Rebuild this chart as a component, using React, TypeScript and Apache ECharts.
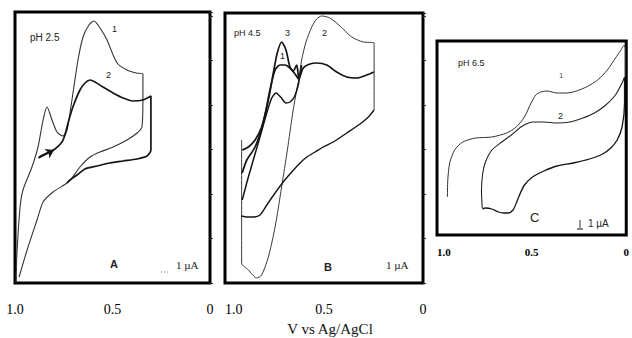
import React, { useEffect, useRef } from "react";
import * as echarts from "echarts";

// Potential axis (V vs Ag/AgCl), current in arbitrary units
const xTickValues = [1.0, 0.5, 0];
const xAxisTitle = "V vs Ag/AgCl";

// Panel A, pH 2.5: [V, current]
const aCurve1: number[][] = [
  [0.995, 0], [0.99, 30], [0.974, 76], [0.959, 93], [0.913, 116], [0.882, 136], [0.856, 163],
  [0.836, 176], [0.81, 163], [0.785, 151], [0.754, 147], [0.733, 153], [0.708, 183], [0.677, 223],
  [0.651, 246], [0.621, 258], [0.595, 262], [0.564, 255], [0.528, 243], [0.497, 228], [0.472, 219],
  [0.426, 213], [0.379, 210], [0.344, 209], [0.344, 183], [0.349, 156], [0.374, 150], [0.426, 143],
  [0.497, 136], [0.564, 131], [0.615, 126], [0.667, 116], [0.708, 105], [0.733, 100], [0.805, 91],
  [0.856, 81], [0.887, 63], [0.938, 33], [0.979, 6],
];
const aCurve2: number[][] = [
  [0.877, 126], [0.836, 130], [0.795, 134], [0.759, 141], [0.744, 148], [0.728, 160], [0.703, 176],
  [0.667, 193], [0.641, 200], [0.615, 203], [0.59, 201], [0.549, 196], [0.497, 190], [0.446, 185],
  [0.395, 182], [0.344, 183], [0.303, 187], [0.303, 133], [0.323, 127], [0.374, 124], [0.446, 122],
  [0.513, 120], [0.579, 117], [0.641, 114], [0.682, 108], [0.718, 103], [0.733, 100],
];
const aArrow: number[][] = [[0.88, 125], [0.8, 133]];

// Panel B, pH 4.5
const bCurve2: number[][] = [
  [0.916, 143], [0.916, 20], [0.882, 13], [0.84, 5], [0.815, 8], [0.781, 26], [0.747, 56],
  [0.714, 96], [0.685, 133], [0.658, 170], [0.638, 193], [0.628, 203], [0.613, 223], [0.591, 241],
  [0.562, 256], [0.537, 264], [0.512, 267], [0.47, 265], [0.419, 257], [0.36, 246], [0.302, 241],
  [0.247, 240], [0.247, 173],
];
const bReturn: number[][] = [
  [0.247, 173], [0.276, 166], [0.318, 159], [0.385, 150], [0.453, 141], [0.504, 136], [0.545, 131],
  [0.587, 126], [0.621, 120], [0.663, 111], [0.706, 101], [0.747, 90], [0.789, 78], [0.823, 68],
  [0.857, 66], [0.89, 66], [0.916, 67],
];
const bCurve3: number[][] = [
  [0.913, 133], [0.882, 136], [0.848, 143], [0.815, 156], [0.781, 183], [0.756, 210], [0.736, 230],
  [0.714, 241], [0.692, 233], [0.672, 216], [0.655, 212], [0.638, 218], [0.633, 213], [0.628, 204],
];
const bCurve1: number[][] = [
  [0.913, 110], [0.89, 123], [0.848, 136], [0.807, 160], [0.773, 193], [0.747, 213], [0.722, 218],
  [0.697, 218], [0.672, 215], [0.646, 209], [0.628, 204], [0.605, 215], [0.571, 219], [0.537, 220],
  [0.486, 218], [0.436, 211], [0.385, 206], [0.335, 205], [0.284, 208], [0.247, 211],
];
const bCurveEarly: number[][] = [
  [0.913, 83], [0.882, 106], [0.832, 140], [0.789, 170], [0.764, 185], [0.742, 190], [0.719, 186],
  [0.692, 180], [0.672, 181], [0.65, 186], [0.63, 198], [0.613, 218],
];

// Panel C, pH 6.5
const cCurve1: number[][] = [
  [0.945, 38], [0.943, 55], [0.933, 72], [0.907, 85], [0.864, 93], [0.796, 97], [0.71, 98],
  [0.632, 102], [0.581, 108], [0.538, 118], [0.503, 132], [0.478, 140], [0.452, 143], [0.418, 144],
  [0.366, 142], [0.314, 142], [0.263, 144], [0.211, 148], [0.151, 155], [0.1, 165], [0.057, 177],
  [0.031, 184], [0.01, 190], [0.005, 185], [0.005, 158],
];
const cCurve2: number[][] = [
  [0.761, 27], [0.765, 45], [0.758, 62], [0.744, 73], [0.71, 85], [0.658, 93], [0.607, 100],
  [0.564, 107], [0.529, 111], [0.495, 113], [0.435, 113], [0.366, 112], [0.297, 113], [0.229, 117],
  [0.168, 122], [0.108, 130], [0.057, 140], [0.022, 152], [0.009, 158],
];
const cReturn: number[][] = [
  [0.009, 157], [0.009, 132], [0.022, 108], [0.048, 95], [0.082, 87], [0.125, 81], [0.194, 76],
  [0.28, 72], [0.366, 69], [0.435, 64], [0.495, 58], [0.538, 50], [0.564, 40], [0.581, 32],
  [0.598, 25], [0.624, 22], [0.649, 22], [0.675, 23], [0.71, 26], [0.744, 27], [0.761, 26],
];

const panelTitles = ["pH 2.5", "pH 4.5", "pH 6.5"];
const panelLetters = ["A", "B", "C"];
const scaleText = "1 µA";

const INK = "#151515";

function fmt(v: number) {
  if (v === 0) return "0";
  return v.toFixed(1);
}

export default function App() {
  const ref = useRef<HTMLDivElement>(null);

  useEffect(() => {
    if (!ref.current) return;
    const chart = echarts.init(ref.current, undefined, { renderer: "svg" });

    const grids = [
      { left: 15, top: 12, width: 195, height: 271 },
      { left: 225, top: 13, width: 198, height: 270 },
      { left: 437, top: 41, width: 194, height: 194 },
    ].map((g) => ({ ...g, show: true, borderColor: "#000", borderWidth: 3, backgroundColor: "transparent" }));

    const mkX = (i: number, big: boolean) => ({
      type: "value",
      gridIndex: i,
      min: 0,
      max: 1,
      interval: 0.5,
      inverse: true,
      axisLine: { show: false },
      axisTick: { show: false },
      splitLine: { show: false },
      axisLabel: {
        show: true,
        margin: big ? 19 : 11,
        fontFamily: "Liberation Serif",
        fontSize: big ? 14 : 11,
        fontWeight: big ? "normal" : "bold",
        color: "#000",
        formatter: (v: number) => (xTickValues.indexOf(v) >= 0 ? fmt(v) : ""),
        alignMaxLabel: i === 0 ? "center" : "left",
      },
    });
    const mkY = (i: number, max: number, tick: boolean) => ({
      type: "value",
      gridIndex: i,
      min: 0,
      max,
      interval: 44.5,
      axisLine: { show: false },
      axisTick: { show: tick, inside: true, length: 3, lineStyle: { color: "#333", width: 1 } },
      axisLabel: { show: false },
      splitLine: { show: false },
    });

    const line = (data: number[][], idx: number, width: number, color = INK, extra: any = {}) => ({
      type: "line",
      xAxisIndex: idx,
      yAxisIndex: idx,
      data,
      symbol: "none",
      smooth: 0.25,
      lineStyle: { color, width },
      z: 3,
      ...extra,
    });

    const txt = (text: string, x: number, y: number, size: number, extra: any = {}) => ({
      type: "text",
      x,
      y,
      silent: true,
      style: {
        text,
        fill: "#222",
        fontSize: size,
        fontFamily: "Liberation Sans",
        align: "left",
        verticalAlign: "middle",
        ...extra,
      },
    });

    chart.setOption({
      animation: false,
      backgroundColor: "#fff",
      grid: grids,
      xAxis: [mkX(0, true), mkX(1, true), mkX(2, false)],
      yAxis: [mkY(0, 271, true), mkY(1, 270, true), mkY(2, 194, false)],
      series: [
        line(aCurve1, 0, 1.1, "#333"),
        line(aCurve2, 0, 1.7, INK, {
          markLine: {
            silent: true,
            symbol: ["none", "arrow"],
            symbolSize: 8,
            label: { show: false },
            lineStyle: { color: INK, width: 1.5, type: "solid" },
            data: [[{ coord: aArrow[0] }, { coord: aArrow[1] }]],
          },
        }),
        line(bCurve2, 1, 1.0, "#3a3a3a"),
        line(bReturn, 1, 1.4),
        line(bCurve3, 1, 1.7),
        line(bCurve1, 1, 1.7),
        line(bCurveEarly, 1, 1.5),
        line(cCurve1, 2, 1.0, "#333"),
        line(cCurve2, 2, 1.1, "#222"),
        line(cReturn, 2, 1.3),
      ],
      graphic: [
        txt(panelTitles[0], 30, 37, 10),
        txt("1", 112, 29, 9),
        txt("2", 106, 75, 9),
        txt(panelLetters[0], 110, 264, 11, { fontWeight: "bold" }),
        { type: "line", silent: true, shape: { x1: 161, y1: 272, x2: 170, y2: 272 }, style: { stroke: "#777", lineWidth: 1, lineDash: [1, 2] } },
        txt(scaleText, 176, 265, 11, { fontFamily: "Liberation Serif" }),

        txt(panelTitles[1], 234, 33, 9),
        txt("3", 285, 33, 9),
        txt("2", 322, 33, 9),
        txt("1", 280, 56, 9),
        txt(panelLetters[1], 324, 267, 11, { fontWeight: "bold" }),
        txt(scaleText, 386, 265, 11, { fontFamily: "Liberation Serif" }),

        txt(panelTitles[2], 458, 63, 9),
        txt("1", 559, 75, 8, { fill: "#555" }),
        txt("2", 558, 116, 9),
        txt(panelLetters[2], 530, 217, 13),
        { type: "line", silent: true, shape: { x1: 580, y1: 220, x2: 580, y2: 228 }, style: { stroke: "#333", lineWidth: 1 } },
        { type: "line", silent: true, shape: { x1: 577, y1: 229, x2: 583, y2: 229 }, style: { stroke: "#333", lineWidth: 1.2 } },
        txt(scaleText, 588, 223, 10),

        {
          type: "text",
          x: 330,
          y: 329,
          silent: true,
          style: {
            text: xAxisTitle,
            fill: "#111",
            fontSize: 15,
            fontFamily: "Liberation Serif",
            align: "center",
            verticalAlign: "middle",
          },
        },
      ],
    });

    return () => chart.dispose();
  }, []);

  return (
    <div
      ref={ref}
      style={{ position: "fixed", left: 0, top: 0, width: 632, height: 338, background: "#fff" }}
    />
  );
}
